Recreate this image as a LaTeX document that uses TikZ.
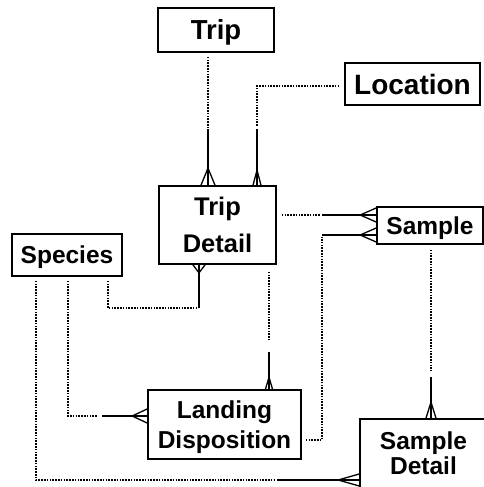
\documentclass[tikz,border=0pt]{standalone}
\usepackage{fontspec}
\setmainfont{Liberation Sans}
\usetikzlibrary{calc}
\tikzset{
  entity/.style={draw, line width=1.7pt, fill=white, inner sep=0pt,
    align=center, text depth=0pt},
  dotline/.style={line width=1.6pt, dash pattern=on 1.5pt off 1.3pt},
  solidline/.style={line width=1.6pt},
  % crow's foot: apex at (#1,0), legs spreading to the entity edge at the origin
  pics/crow/.style args={#1/#2}{code={
    \draw[solidline, line width=1.3pt] (#1,0) -- (0,#2) (#1,0) -- (0,-#2);}}
}
\begin{document}
\begin{tikzpicture}[x=1pt, y=-1pt]
\useasboundingbox (0,0) rectangle (484,487);
\clip (0,0) rectangle (484,487);
\fill[white] (0,0) rectangle (484,487);

% entities
\node[entity, minimum width=116pt, minimum height=44pt,
  font=\bfseries\fontsize{27.5}{32}\selectfont] (trip) at (216,30) {Trip};
\node[entity, minimum width=135pt, minimum height=42pt,
  font=\bfseries\fontsize{28}{33}\selectfont] (loc) at (412.5,84) {Location};
\node[entity, minimum width=117pt, minimum height=78pt,
  font=\bfseries\fontsize{25.5}{36.6}\selectfont] (td) at (217.5,225) {Trip\\Detail};
\node[entity, minimum width=110pt, minimum height=42pt,
  font=\bfseries\fontsize{24.5}{29}\selectfont] (species) at (67,255) {Species};
\node[entity, minimum width=106pt, minimum height=37pt,
  font=\bfseries\fontsize{24.5}{29}\selectfont] (sample) at (430,225.5) {Sample};
\node[entity, minimum width=153pt, minimum height=69pt,
  font=\bfseries\fontsize{24.5}{29.3}\selectfont] (ld) at (224.5,424.5) {Landing\\Disposition};
\node[entity, minimum width=127pt, minimum height=69pt,
  font=\bfseries\fontsize{24.5}{25}\selectfont] (sd) at (423.5,453.5) {Sample\\Detail};

% Trip -> Trip Detail
\coordinate (k1) at (208,128);
\draw[dotline] ($(trip.south -| k1)+(0,4)$) -- ($(k1)+(0,-1)$);
\draw[solidline] ($(k1)+(0,1)$) -- (k1 |- td.north) pic[rotate=90]{crow=17/7};

% Location -> Trip Detail
\coordinate (k2) at (257,86);
\coordinate (k2b) at (257,128);
\draw[dotline] ($(loc.west |- k2)+(-5,0)$) -- (k2) -- ($(k2b)+(0,-1)$);
\draw[solidline] ($(k2b)+(0,1)$) -- (k2b |- td.north) pic[rotate=90]{crow=15/4};

% Trip Detail -> Sample
\coordinate (k3) at (321,215);
\draw[dotline] ($(td.east |- k3)+(5,0)$) -- ($(k3)+(-1,0)$);
\draw[solidline] ($(k3)+(1,0)$) -- (k3 -| sample.west) pic[rotate=180]{crow=16/7};

% Landing Disposition -> Sample
\coordinate (k4) at (322,440);
\coordinate (k4b) at (322,235);
\draw[dotline] ($(ld.east |- k4)+(4,0)$) -- (k4) -- ($(k4b)+(0,2)$);
\draw[solidline] (k4b) -- (k4b -| sample.west) pic[rotate=180]{crow=16/7};

% Species -> Trip Detail
\coordinate (k5a) at (108,308);
\coordinate (k5) at (199,308);
\draw[dotline] ($(species.south -| k5a)+(0,4)$) -- (k5a) -- ($(k5)+(-2,0)$);
\draw[solidline] (k5) -- (k5 |- td.south) pic[rotate=-90]{crow=8/6};

% Trip Detail -> Landing Disposition
\coordinate (k6) at (269,346);
\draw[dotline] ($(td.south -| k6)+(0,7)$) -- ($(k6)+(0,-6)$);
\draw[solidline] ($(k6)+(0,6)$) -- (k6 |- ld.north) pic[rotate=90]{crow=12/3.5};

% Species -> Landing Disposition
\coordinate (k7a) at (68,416);
\coordinate (k7) at (100,416);
\draw[dotline] ($(species.south -| k7a)+(0,4)$) -- (k7a) -- ($(k7)+(-3,0)$);
\draw[solidline] ($(k7)+(2,0)$) -- (k7 -| ld.west) pic[rotate=180]{crow=15/7};

% Species -> Sample Detail
\coordinate (k8a) at (36,480);
\coordinate (k8) at (276,480);
\draw[dotline] ($(species.south -| k8a)+(0,4)$) -- (k8a) -- ($(k8)+(-1,0)$);
\draw[solidline] ($(k8)+(1,0)$) -- (k8 -| sd.west) pic[rotate=180]{crow=21/6};

% Sample -> Sample Detail
\coordinate (k9) at (431,374);
\draw[dotline] ($(sample.south -| k9)+(0,5)$) -- ($(k9)+(0,-3)$);
\draw[solidline] ($(k9)+(0,3)$) -- (k9 |- sd.north) pic[rotate=90]{crow=16/5};
\end{tikzpicture}
\end{document}
